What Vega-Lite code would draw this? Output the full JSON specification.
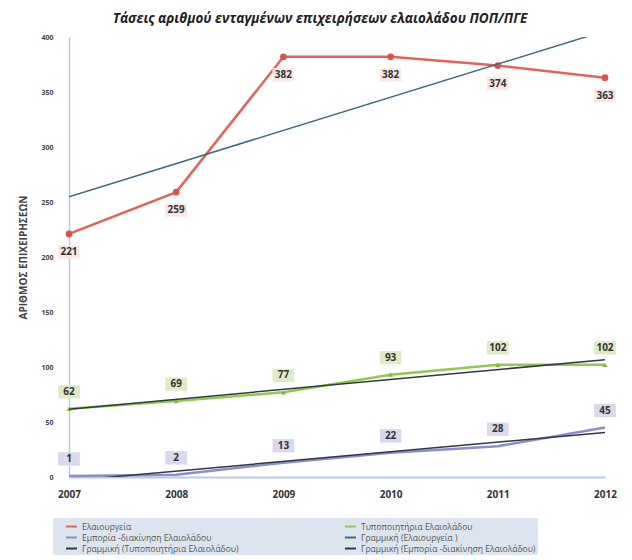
{
  "$schema": "https://vega.github.io/schema/vega-lite/v6.json",
  "width": 536,
  "height": 440,
  "autosize": "none",
  "padding": {"left": 69, "top": 37, "right": 27, "bottom": 83},
  "background": "white",
  "title": {
    "text": "Τάσεις αριθμού ενταγμένων επιχειρήσεων ελαιολάδου ΠΟΠ/ΠΓΕ",
    "font": "Open Sans",
    "fontSize": 13.5,
    "fontWeight": "bold",
    "fontStyle": "italic",
    "color": "#222222",
    "anchor": "middle",
    "offset": 8,
    "dx": -17
  },
  "config": {
    "view": {"stroke": null},
    "font": "Open Sans"
  },
  "data": {
    "values": [
      {"year": 2007, "series": "Ελαιουργεία", "trend": "Γραμμική (Ελαιουργεία )", "value": 221},
      {"year": 2008, "series": "Ελαιουργεία", "trend": "Γραμμική (Ελαιουργεία )", "value": 259},
      {"year": 2009, "series": "Ελαιουργεία", "trend": "Γραμμική (Ελαιουργεία )", "value": 382},
      {"year": 2010, "series": "Ελαιουργεία", "trend": "Γραμμική (Ελαιουργεία )", "value": 382},
      {"year": 2011, "series": "Ελαιουργεία", "trend": "Γραμμική (Ελαιουργεία )", "value": 374},
      {"year": 2012, "series": "Ελαιουργεία", "trend": "Γραμμική (Ελαιουργεία )", "value": 363},
      {"year": 2007, "series": "Τυποποιητήρια Ελαιολάδου", "trend": "Γραμμική (Τυποποιητήρια Ελαιολάδου)", "value": 62},
      {"year": 2008, "series": "Τυποποιητήρια Ελαιολάδου", "trend": "Γραμμική (Τυποποιητήρια Ελαιολάδου)", "value": 69},
      {"year": 2009, "series": "Τυποποιητήρια Ελαιολάδου", "trend": "Γραμμική (Τυποποιητήρια Ελαιολάδου)", "value": 77},
      {"year": 2010, "series": "Τυποποιητήρια Ελαιολάδου", "trend": "Γραμμική (Τυποποιητήρια Ελαιολάδου)", "value": 93},
      {"year": 2011, "series": "Τυποποιητήρια Ελαιολάδου", "trend": "Γραμμική (Τυποποιητήρια Ελαιολάδου)", "value": 102},
      {"year": 2012, "series": "Τυποποιητήρια Ελαιολάδου", "trend": "Γραμμική (Τυποποιητήρια Ελαιολάδου)", "value": 102},
      {"year": 2007, "series": "Εμπορία -διακίνηση Ελαιολάδου", "trend": "Γραμμική (Εμπορία -διακίνηση Ελαιολάδου)", "value": 1},
      {"year": 2008, "series": "Εμπορία -διακίνηση Ελαιολάδου", "trend": "Γραμμική (Εμπορία -διακίνηση Ελαιολάδου)", "value": 2},
      {"year": 2009, "series": "Εμπορία -διακίνηση Ελαιολάδου", "trend": "Γραμμική (Εμπορία -διακίνηση Ελαιολάδου)", "value": 13},
      {"year": 2010, "series": "Εμπορία -διακίνηση Ελαιολάδου", "trend": "Γραμμική (Εμπορία -διακίνηση Ελαιολάδου)", "value": 22},
      {"year": 2011, "series": "Εμπορία -διακίνηση Ελαιολάδου", "trend": "Γραμμική (Εμπορία -διακίνηση Ελαιολάδου)", "value": 28},
      {"year": 2012, "series": "Εμπορία -διακίνηση Ελαιολάδου", "trend": "Γραμμική (Εμπορία -διακίνηση Ελαιολάδου)", "value": 45}
    ]
  },
  "encoding": {
    "x": {
      "field": "year",
      "type": "quantitative",
      "scale": {"domain": [2007, 2012], "nice": false, "zero": false},
      "axis": {
        "title": null,
        "values": [2007, 2008, 2009, 2010, 2011, 2012],
        "format": "d",
        "labelFont": "Open Sans",
        "labelFontSize": 10,
        "labelFontWeight": "bold",
        "labelColor": "#333333",
        "labelPadding": 12,
        "grid": false,
        "ticks": false,
        "domainColor": "#b8cce4",
        "domainWidth": 2,
        "labelFlush": false
      }
    },
    "y": {
      "field": "value",
      "type": "quantitative",
      "scale": {"domain": [0, 400], "nice": false},
      "axis": {
        "title": "ΑΡΙΘΜΟΣ ΕΠΙΧΕΙΡΗΣΕΩΝ",
        "titleFont": "Open Sans",
        "titleFontSize": 10,
        "titleFontWeight": "bold",
        "titleColor": "#444444",
        "titlePadding": 12,
        "values": [0, 50, 100, 150, 200, 250, 300, 350, 400],
        "labelFont": "Open Sans",
        "labelFontSize": 7,
        "labelFontWeight": "bold",
        "labelColor": "#444444",
        "labelPadding": 16,
        "grid": false,
        "ticks": false,
        "domainColor": "#b8cce4",
        "domainWidth": 1.5
      }
    }
  },
  "layer": [
    {
      "mark": {"type": "line", "strokeWidth": 2.5},
      "encoding": {
        "color": {
          "field": "series",
          "type": "nominal",
          "scale": {
            "domain": [
              "Ελαιουργεία",
              "Τυποποιητήρια Ελαιολάδου",
              "Εμπορία -διακίνηση Ελαιολάδου",
              "Γραμμική (Ελαιουργεία )",
              "Γραμμική (Τυποποιητήρια Ελαιολάδου)",
              "Γραμμική (Εμπορία -διακίνηση Ελαιολάδου)"
            ],
            "range": ["#e0645c", "#92c84e", "#8c8cd0", "#3d6b82", "#2e3a40", "#2e3a40"]
          },
          "legend": {
            "title": null,
            "orient": "none",
            "legendX": -16,
            "legendY": 481,
            "direction": "horizontal",
            "columns": 2,
            "columnPadding": 95,
            "rowPadding": 0,
            "padding": 2,
            "fillColor": "#dce5ef",
            "labelFont": "Open Sans",
            "labelFontSize": 8.5,
            "labelColor": "#555555",
            "labelLimit": 280,
            "symbolType": "stroke",
            "symbolSize": 120,
            "symbolStrokeWidth": 2,
            "symbolOffset": 10,
            "values": [
              "Ελαιουργεία",
              "Τυποποιητήρια Ελαιολάδου",
              "Εμπορία -διακίνηση Ελαιολάδου",
              "Γραμμική (Ελαιουργεία )",
              "Γραμμική (Τυποποιητήρια Ελαιολάδου)",
              "Γραμμική (Εμπορία -διακίνηση Ελαιολάδου)"
            ]
          }
        }
      }
    },
    {
      "transform": [{"filter": "datum.series === 'Ελαιουργεία'"}],
      "mark": {"type": "point", "shape": "circle", "filled": true, "size": 45, "color": "#d9534f", "opacity": 1},
      "encoding": {}
    },
    {
      "transform": [{"filter": "datum.series === 'Τυποποιητήρια Ελαιολάδου'"}],
      "mark": {"type": "point", "shape": "triangle-up", "filled": true, "size": 25, "color": "#7cb83a", "opacity": 1},
      "encoding": {}
    },
    {
      "transform": [
        {"regression": "value", "on": "year", "groupby": ["trend"], "method": "linear"}
      ],
      "mark": {"type": "line", "strokeWidth": 1.5, "clip": true},
      "encoding": {
        "color": {"field": "trend", "type": "nominal"}
      }
    },
    {
      "transform": [{"filter": "datum.series === 'Ελαιουργεία'"}],
      "mark": {"type": "point", "shape": "M-1.3,-0.8L1.3,-0.8L1.3,0.8L-1.3,0.8Z", "filled": true, "size": 280, "color": "#f6e6e2", "opacity": 0.9, "yOffset": 18},
      "encoding": {}
    },
    {
      "transform": [{"filter": "datum.series === 'Τυποποιητήρια Ελαιολάδου'"}],
      "mark": {"type": "point", "shape": "M-1.3,-0.8L1.3,-0.8L1.3,0.8L-1.3,0.8Z", "filled": true, "size": 280, "color": "#dde9bf", "opacity": 0.9, "yOffset": -17},
      "encoding": {}
    },
    {
      "transform": [{"filter": "datum.series === 'Εμπορία -διακίνηση Ελαιολάδου'"}],
      "mark": {"type": "point", "shape": "M-1.3,-0.8L1.3,-0.8L1.3,0.8L-1.3,0.8Z", "filled": true, "size": 280, "color": "#d6d4ea", "opacity": 0.9, "yOffset": -17},
      "encoding": {}
    },
    {
      "transform": [{"filter": "datum.series === 'Ελαιουργεία'"}],
      "mark": {"type": "text", "font": "Open Sans", "fontSize": 10, "fontWeight": "bold", "color": "#333333", "dy": 18},
      "encoding": {"text": {"field": "value", "type": "quantitative"}}
    },
    {
      "transform": [{"filter": "datum.series !== 'Ελαιουργεία'"}],
      "mark": {"type": "text", "font": "Open Sans", "fontSize": 10, "fontWeight": "bold", "color": "#333333", "dy": -17},
      "encoding": {"text": {"field": "value", "type": "quantitative"}}
    }
  ]
}
